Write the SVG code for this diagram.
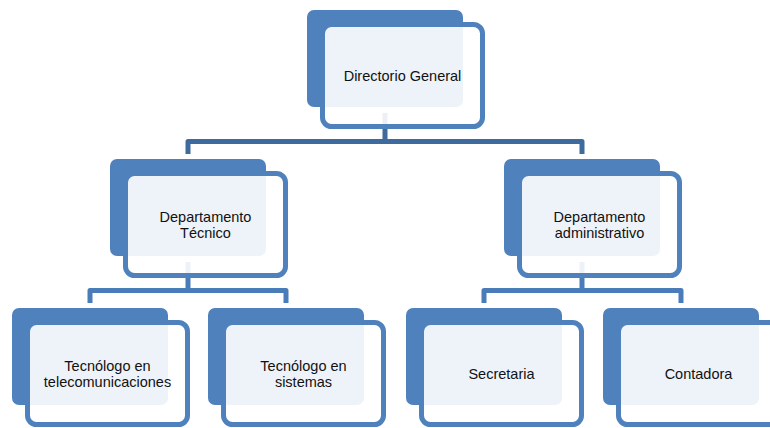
<svg xmlns="http://www.w3.org/2000/svg" width="770" height="428" viewBox="0 0 770 428">
<style>
.back{fill:#4F81BD}
.frame{fill:#FFFFFF;fill-opacity:0.9;stroke:#4F81BD;stroke-width:5}
.lbl{font-family:"Liberation Sans",Arial,sans-serif;font-size:14.5px;fill:#111111;text-anchor:middle}
.c1{fill:none;stroke:#3F6A9E;stroke-width:5;stroke-linejoin:round}
.c2{fill:none;stroke:#4A7CB9;stroke-width:5;stroke-linejoin:round}
</style>
<rect width="770" height="428" fill="#FFFFFF"/>
<g id="connectors">
<path class="c1" d="M385 113 V141.5 M188 154 V141.5 H582 V154"/>
<path class="c2" d="M188 262 V290.5 M90 303 V290.5 H286 V303"/>
<path class="c2" d="M582 262 V290.5 M484 303 V290.5 H681 V303"/>
</g>
<g id="n-director">
<rect class="back" x="307" y="10" width="156" height="97" rx="7"/>
<rect class="frame" x="322.5" y="24.5" width="160" height="102" rx="9"/>
<text class="lbl" x="402.5" y="80.5">Directorio General</text>
</g>
<g id="n-tecnico">
<rect class="back" x="110" y="159" width="156" height="97" rx="7"/>
<rect class="frame" x="125.5" y="173.5" width="160" height="102" rx="9"/>
<text class="lbl" x="205.5" y="221.5">Departamento</text>
<text class="lbl" x="205.5" y="237.5">Técnico</text>
</g>
<g id="n-admin">
<rect class="back" x="504" y="159" width="156" height="97" rx="7"/>
<rect class="frame" x="519.5" y="173.5" width="160" height="102" rx="9"/>
<text class="lbl" x="599.5" y="221.5">Departamento</text>
<text class="lbl" x="599.5" y="237.5">administrativo</text>
</g>
<g id="n-telecom">
<rect class="back" x="12" y="308" width="156" height="97" rx="7"/>
<rect class="frame" x="27.5" y="322.5" width="160" height="102" rx="9"/>
<text class="lbl" x="107.5" y="370.5">Tecnólogo en</text>
<text class="lbl" x="107.5" y="386.5">telecomunicaciones</text>
</g>
<g id="n-sistemas">
<rect class="back" x="208" y="308" width="156" height="97" rx="7"/>
<rect class="frame" x="223.5" y="322.5" width="160" height="102" rx="9"/>
<text class="lbl" x="303.5" y="370.5">Tecnólogo en</text>
<text class="lbl" x="303.5" y="386.5">sistemas</text>
</g>
<g id="n-secretaria">
<rect class="back" x="406" y="308" width="156" height="97" rx="7"/>
<rect class="frame" x="421.5" y="322.5" width="160" height="102" rx="9"/>
<text class="lbl" x="501.5" y="378.5">Secretaria</text>
</g>
<g id="n-contadora">
<rect class="back" x="603" y="308" width="156" height="97" rx="7"/>
<rect class="frame" x="618.5" y="322.5" width="160" height="102" rx="9"/>
<text class="lbl" x="698.5" y="378.5">Contadora</text>
</g>
</svg>
